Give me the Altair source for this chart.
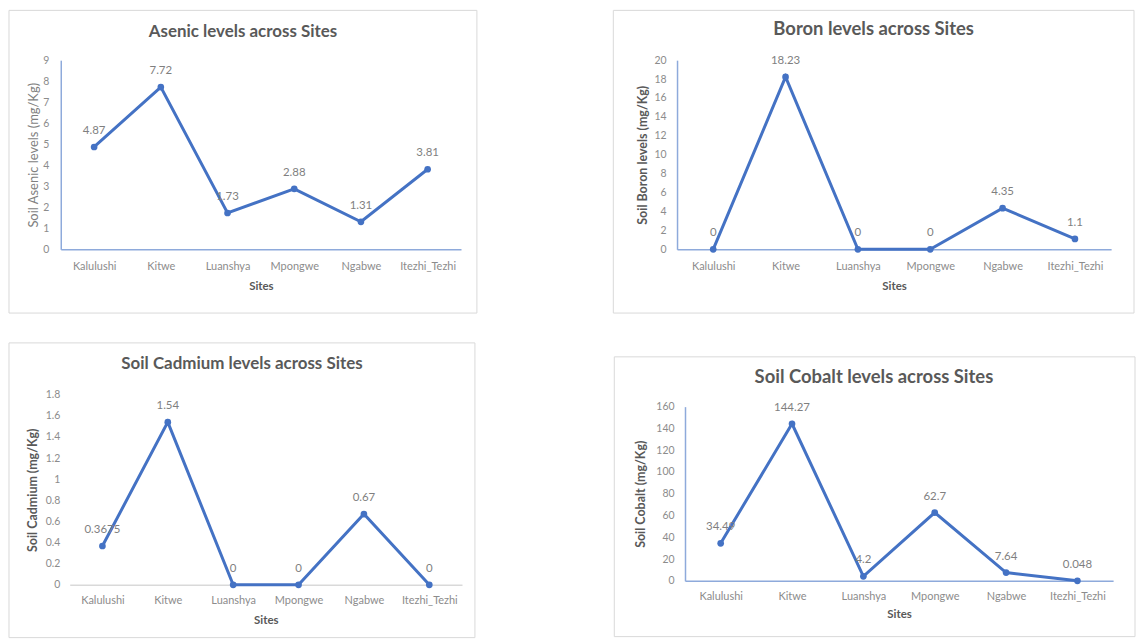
import altair as alt
import pandas as pd

sites = ["Kalulushi", "Kitwe", "Luanshya", "Mpongwe", "Ngabwe", "Itezhi_Tezhi"]

arsenic = [4.87, 7.72, 1.73, 2.88, 1.31, 3.81]
arsenic_lbl = ["4.87", "7.72", "1.73", "2.88", "1.31", "3.81"]

boron = [0, 18.23, 0, 0, 4.35, 1.1]
boron_lbl = ["0", "18.23", "0", "0", "4.35", "1.1"]

cadmium = [0.3675, 1.54, 0, 0, 0.67, 0]
cadmium_lbl = ["0.3675", "1.54", "0", "0", "0.67", "0"]

cobalt = [34.49, 144.27, 4.2, 62.7, 7.64, 0.048]
cobalt_lbl = ["34.49", "144.27", "4.2", "62.7", "7.64", "0.048"]

arsenic_ticks = [0, 1, 2, 3, 4, 5, 6, 7, 8, 9]
boron_ticks = [0, 2, 4, 6, 8, 10, 12, 14, 16, 18, 20]
cadmium_ticks = [0, 0.2, 0.4, 0.6, 0.8, 1, 1.2, 1.4, 1.6, 1.8]
cobalt_ticks = [0, 20, 40, 60, 80, 100, 120, 140, 160]

LINE = "#4472C4"
AXIS_BLUE = "#8eaadb"
FONT = "Lato"


def panel(title, values, labels, ytitle, ticks, width, height, frame, bound,
          title_offset, title_size, ylab_pad, ytitle_pad, ytitle_bold,
          xdomain_color, ydomain_visible, xlab_pad, xtitle_pad, xrange=None):
    df = pd.DataFrame({"site": sites, "value": values, "label": labels})
    if xrange is None:
        xscale = alt.Scale(domain=sites, padding=0.5)
    else:
        xscale = alt.Scale(domain=sites, padding=0.5, range=xrange)
    xenc = alt.X(
        "site:N",
        sort=sites,
        scale=xscale,
        axis=alt.Axis(
            title="Sites", labelAngle=0, ticks=False, domainColor=xdomain_color,
            domainWidth=1.5, labelFont=FONT, labelFontSize=11, labelColor="#8c8c8c",
            labelPadding=xlab_pad, titleFont=FONT, titleFontSize=11.5,
            titleFontWeight="bold", titleColor="#595959", titlePadding=xtitle_pad,
        ),
    )
    yenc = alt.Y(
        "value:Q",
        scale=alt.Scale(domain=[ticks[0], ticks[-1]], nice=False),
        axis=alt.Axis(
            title=ytitle, values=ticks, format="~r", ticks=False, grid=False,
            domain=ydomain_visible, domainColor=AXIS_BLUE, domainWidth=1.5,
            labelFont=FONT, labelFontSize=10.5, labelColor="#8c8c8c",
            labelPadding=ylab_pad, titleFont=FONT,
            titleFontSize=12.5 if ytitle_bold else 13,
            titleFontWeight="bold" if ytitle_bold else "normal",
            titleColor="#595959" if ytitle_bold else "#7f7f7f",
            titlePadding=ytitle_pad,
        ),
    )
    one = pd.DataFrame({"f": [0]})
    layers = []
    if bound is not None:
        layers.append(
            alt.Chart(one).mark_rect(fillOpacity=0, strokeOpacity=0).encode(
                x=alt.value(bound[0]), x2=alt.value(bound[1]),
                y=alt.value(bound[2]), y2=alt.value(bound[3]))
        )
    layers.append(
        alt.Chart(one).mark_rect(fillOpacity=0, stroke="#d9d9d9", strokeWidth=1).encode(
            x=alt.value(frame[0]), x2=alt.value(frame[1]),
            y=alt.value(frame[2]), y2=alt.value(frame[3]))
    )
    base = alt.Chart(df).encode(x=xenc, y=yenc)
    layers.append(base.mark_line(color=LINE, strokeWidth=3))
    layers.append(base.mark_circle(color=LINE, size=45, opacity=1))
    layers.append(
        base.mark_text(dy=-16, font=FONT, fontSize=11.5, color="#7f7f7f").encode(
            text="label:N")
    )
    return alt.layer(*layers).properties(
        width=width, height=height,
        title=alt.TitleParams(
            title, anchor="middle", frame="bounds", offset=title_offset,
            baseline="middle", font=FONT, fontSize=title_size, fontWeight="bold",
            color="#595959"),
    )


tl = panel("Asenic levels across Sites", arsenic, arsenic_lbl,
           "Soil Asenic levels (mg/Kg)", arsenic_ticks, 402, 190,
           (-52, 418, -50, 254), None, -39, 17, 12, 2, False, AXIS_BLUE, True,
           11, 9)
tr = panel("Boron levels across Sites", boron, boron_lbl,
           "Soil Boron levels (mg/Kg)", boron_ticks, 436, 190,
           (-64, 459, -50, 254), None, -38, 18.5, 11, 4, True, AXIS_BLUE, True,
           11, 9)
bl = panel("Soil Cadmium levels across Sites", cadmium, cadmium_lbl,
           "Soil Cadmium (mg/Kg)", cadmium_ticks, 403, 191,
           (-52, 416, -52, 244), None, -39, 17, 1, 6, True, "#d9d9d9", False,
           10, 9, xrange=[9, 403])
br = panel("Soil Cobalt levels across Sites", cobalt, cobalt_lbl,
           "Soil Cobalt (mg/Kg)", cobalt_ticks, 430, 175,
           (-71, 452, -50, 231), (-73, 452, -65, 231), -54, 18.5, 11, 8, True,
           AXIS_BLUE, True, 10, 7)

chart = alt.concat(
    tl, tr, bl, br, columns=2, align="none", bounds="full",
    spacing=alt.RowColnumber(row=28, column=135),
).properties(
    padding=0, background="white"
).configure_view(stroke=None).configure_axis(grid=False)

chart.save("out.html", embed_options={"renderer": "svg", "actions": False})
